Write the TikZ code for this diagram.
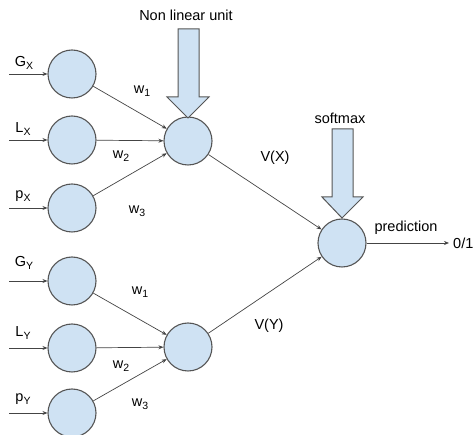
\documentclass[tikz,border=0pt]{standalone}
\usepackage{fontspec}
\setmainfont{Liberation Sans}
\usetikzlibrary{arrows.meta}
\definecolor{nodefill}{HTML}{CFE2F3}
\definecolor{nodeline}{HTML}{555555}
\definecolor{edgeline}{HTML}{444444}
\newcommand{\lowsub}[1]{\raisebox{-0.45ex}{\fontsize{10.5}{12}\selectfont #1}}
\begin{document}
\begin{tikzpicture}[x=1pt,y=-1pt,
  font=\fontsize{14.5}{17}\selectfont,
  unit/.style={circle,draw=nodeline,fill=nodefill,line width=1.1pt,minimum size=48pt,inner sep=0pt},
  edge/.style={draw=edgeline,line width=0.7pt,-{Stealth[length=5pt,width=4pt]}},
  bigarrow/.style={draw=nodeline,fill=nodefill,line width=1pt,line join=miter},
  lbl/.style={inner sep=0pt}
]
\useasboundingbox (0,0) rectangle (475,435);
% input units
\node[unit] (gx) at (72,74) {};
\node[unit] (lx) at (72,140) {};
\node[unit] (px) at (72,208) {};
\node[unit] (gy) at (72,281) {};
\node[unit] (ly) at (72,348) {};
\node[unit] (py) at (72,413) {};
% hidden units
\node[unit] (hx) at (188,141) {};
\node[unit] (hy) at (188,347) {};
% output unit
\node[unit] (out) at (342,243) {};
% free ends
\coordinate (igx) at (9,74);
\coordinate (ilx) at (9,140);
\coordinate (ipx) at (9,208);
\coordinate (igy) at (9,281);
\coordinate (ily) at (9,348);
\coordinate (ipy) at (9,413);
\coordinate (res) at (449,243);
% input arrows
\draw[edge] (igx) -- (gx);
\draw[edge] (ilx) -- (lx);
\draw[edge] (ipx) -- (px);
\draw[edge] (igy) -- (gy);
\draw[edge] (ily) -- (ly);
\draw[edge] (ipy) -- (py);
% to hidden
\draw[edge] (gx) -- (hx);
\draw[edge] (lx) -- (hx);
\draw[edge] (px) -- (hx);
\draw[edge] (gy) -- (hy);
\draw[edge] (ly) -- (hy);
\draw[edge] (py) -- (hy);
% to output
\draw[edge] (hx) -- (out);
\draw[edge] (hy) -- (out);
\draw[edge] (out) -- (res);
% input labels
\node[lbl] (tgx) at (24,63) {G\lowsub{X}};
\node[lbl] (tlx) at (23,129) {L\lowsub{X}};
\node[lbl] (tpx) at (23,196) {p\lowsub{X}};
\node[lbl] (tgy) at (24,263) {G\lowsub{Y}};
\node[lbl] (tly) at (23,333) {L\lowsub{Y}};
\node[lbl] (tpy) at (23,399) {p\lowsub{Y}};
% weights
\node[lbl] (w1x) at (142,91) {w\lowsub{1}};
\node[lbl] (w2x) at (121,156) {w\lowsub{2}};
\node[lbl] (w3x) at (137,211) {w\lowsub{3}};
\node[lbl] (w1y) at (140,292) {w\lowsub{1}};
\node[lbl] (w2y) at (121,366) {w\lowsub{2}};
\node[lbl] (w3y) at (140,404) {w\lowsub{3}};
% values
\node[lbl] (vx) at (275,158) {V(X)};
\node[lbl] (vy) at (269,326) {V(Y)};
\node[lbl] (pred) at (406,228) {prediction};
\node[lbl,anchor=west] (res01) at (453,243) {0/1};
% big arrows
\draw[bigarrow] (178,29) -- (199,29) -- (199,97) -- (209,97) -- (188,118) -- (167,97) -- (178,97) -- cycle;
\node[lbl] (nlu) at (186,15) {Non linear unit};
\draw[bigarrow] (332,129) -- (353,129) -- (353,197) -- (363,197) -- (342,218) -- (322,197) -- (332,197) -- cycle;
\node[lbl] (smx) at (340,118) {softmax};
\end{tikzpicture}
\end{document}
